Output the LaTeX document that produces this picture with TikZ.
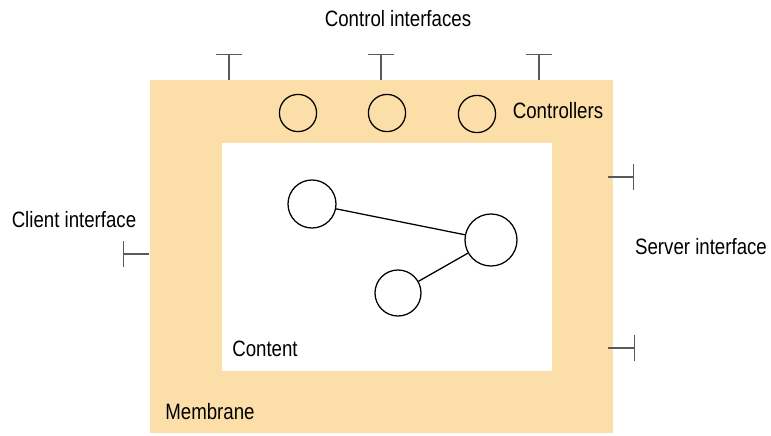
\documentclass[tikz,border=0pt]{standalone}
\usepackage{fontspec}
\setmainfont[FakeStretch=0.84]{Liberation Sans}
\usetikzlibrary{arrows.meta}

\definecolor{membranecol}{RGB}{252,222,168}
\definecolor{stubgray}{RGB}{90,90,90}

\begin{document}
\begin{tikzpicture}[x=0.025cm,y=-0.025cm,
    comp/.style={circle,draw,line width=0.9pt,inner sep=0pt},
    ctrl/.style={comp,minimum size=0.93cm},
    iface/.style={draw=stubgray,line width=1pt,-{Bar[width=17.8pt]}},
    lbl/.style={inner sep=0pt,font=\fontsize{15.8}{18}\selectfont}]
  \useasboundingbox (0,0) rectangle (771,435);

  %membran og indhold
	\fill[membranecol] (150,80) rectangle (613,433);
	\fill[white] (222,143) rectangle (552,371);

  %controllers
	\node[ctrl] (c1) at (298,113) {};
	\node[ctrl] (c2) at (387,113) {};
	\node[ctrl] (c3) at (477,114) {};
	\node[lbl] (controllers) at (558,111) {Controllers};

  %control interfaces
	\coordinate (t1) at (229,80);  \coordinate (t1e) at (229,54);
	\coordinate (t2) at (381,80);  \coordinate (t2e) at (381,54);
	\coordinate (t3) at (539,80);  \coordinate (t3e) at (539,54);
	\draw[iface] (t1) -- (t1e);
	\draw[iface] (t2) -- (t2e);
	\draw[iface] (t3) -- (t3e);
	\node[lbl] (ctrlif) at (398,19) {Control interfaces};

  %client interface
	\coordinate (cl) at (149,254); \coordinate (cle) at (123,254);
	\draw[iface] (cl) -- (cle);
	\node[lbl] (client) at (74,220) {Client interface};

  %server interfaces
	\coordinate (s1) at (608,177); \coordinate (s1e) at (634,177);
	\coordinate (s2) at (608,348); \coordinate (s2e) at (635,348);
	\draw[iface] (s1) -- (s1e);
	\draw[iface] (s2) -- (s2e);
	\node[lbl] (server) at (701,247) {Server interface};

  %komponenter i indholdet
	\node[comp,minimum size=1.2cm]  (a) at (312,204) {};
	\node[comp,minimum size=1.3cm]  (b) at (491,240) {};
	\node[comp,minimum size=1.15cm] (c) at (398,293) {};
	\draw[line width=0.9pt] (a) -- (b);
	\draw[line width=0.9pt] (c) -- (b);

  %navne
	\node[lbl] (content) at (265,349) {Content};
	\node[lbl] (membrane) at (210,412) {Membrane};
\end{tikzpicture}
\end{document}
